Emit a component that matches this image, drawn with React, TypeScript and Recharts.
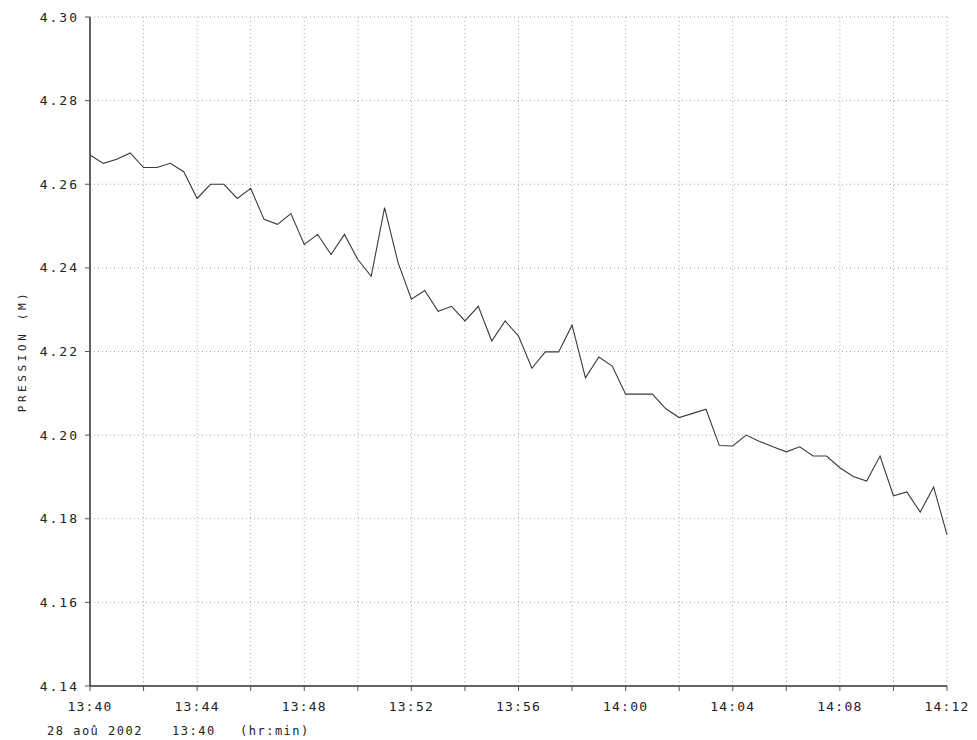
import React from 'react';
import { LineChart, Line, XAxis, YAxis, CartesianGrid, Customized } from 'recharts';

// Sampling: one reading every 30 s starting 13:40
const STEP_MIN = 0.5;

// Pressure readings (m)
const pression: number[] = [
  4.267, 4.265, 4.266, 4.2675, 4.264, 4.264, 4.265, 4.263, 4.2566, 4.26,
  4.26, 4.2566, 4.259, 4.2516, 4.2504, 4.253, 4.2456, 4.248, 4.2432, 4.248,
  4.242, 4.238, 4.2544, 4.2413, 4.2325, 4.2346, 4.2296, 4.2308, 4.2273, 4.2308,
  4.2225, 4.2273, 4.2237, 4.216, 4.2199, 4.2199, 4.2263, 4.2137, 4.2187, 4.2165,
  4.2098, 4.2098, 4.2098, 4.2063, 4.2042, 4.2052, 4.2062, 4.1975, 4.1974, 4.2,
  4.1985, 4.1972, 4.196, 4.1972, 4.195, 4.195, 4.1922, 4.1901, 4.189, 4.195,
  4.1855, 4.1864, 4.1816, 4.1876, 4.1762,
];

const xTicks: number[] = [0, 2, 4, 6, 8, 10, 12, 14, 16, 18, 20, 22, 24, 26, 28, 30, 32];
const xLabels: string[] = ['13:40', '13:44', '13:48', '13:52', '13:56', '14:00', '14:04', '14:08', '14:12'];
const yTicks: number[] = [4.14, 4.16, 4.18, 4.2, 4.22, 4.24, 4.26, 4.28, 4.3];

const yLabel = 'PRESSION (M)';
const captionDate = '28 aoû 2002';
const captionTime = '13:40';
const captionUnit = '(hr:min)';

const data = pression.map((v, i) => ({ t: i * STEP_MIN, p: v }));

const FONT = '"DejaVu Sans Mono", "Liberation Mono", monospace';
const INK = '#222';

const XTick = (props: any) => {
  const { x, y, payload } = props;
  const v = payload.value as number;
  if (v % 4 !== 0) return null;
  const label = xLabels[v / 4];
  return (
    <text x={x} y={y} dy="0.71em" textAnchor="middle" fontFamily={FONT} fontSize={13} letterSpacing={1.2} fill={INK}>
      {label}
    </text>
  );
};

const YTick = (props: any) => {
  const { x, y, payload } = props;
  return (
    <text x={x} y={y} dy="0.35em" textAnchor="end" fontFamily={FONT} fontSize={13} letterSpacing={2} fill={INK}>
      {(payload.value as number).toFixed(2)}
    </text>
  );
};

const Captions = () => (
  <g fontFamily={FONT} fontSize={12} fill={INK} letterSpacing={1.5}>
    <text x={22} y={351} textAnchor="middle" dy="0.35em" transform="rotate(-90 22 351)" fontSize={11} letterSpacing={3.6}>
      {yLabel}
    </text>
    <text x={47} y={735}>{captionDate}</text>
    <text x={172} y={735}>{captionTime}</text>
    <text x={240} y={735}>{captionUnit}</text>
  </g>
);

export default function App() {
  return (
    <div style={{ position: 'absolute', left: 0, top: 0, background: '#fff' }}>
      <LineChart width={977} height={740} data={data} margin={{ top: 17, right: 30, bottom: 24, left: 30 }}>
        <CartesianGrid stroke="#aaaaaa" strokeDasharray="1 3" strokeWidth={1} />
        <XAxis
          dataKey="t"
          type="number"
          domain={[0, 32]}
          ticks={xTicks}
          interval={0}
          height={30}
          tick={<XTick />}
          tickSize={5}
          tickMargin={11}
          axisLine={{ stroke: '#333', strokeWidth: 1.5 }}
          tickLine={{ stroke: '#555' }}
        />
        <YAxis
          type="number"
          domain={[4.14, 4.3]}
          ticks={yTicks}
          interval={0}
          width={60}
          tick={<YTick />}
          tickSize={5}
          tickMargin={6}
          axisLine={{ stroke: '#333', strokeWidth: 1.5 }}
          tickLine={{ stroke: '#555' }}
        />
        <Line
          type="linear"
          dataKey="p"
          stroke="#3a3a3a"
          strokeWidth={1.1}
          dot={false}
          isAnimationActive={false}
        />
        <Customized component={Captions} />
      </LineChart>
    </div>
  );
}
